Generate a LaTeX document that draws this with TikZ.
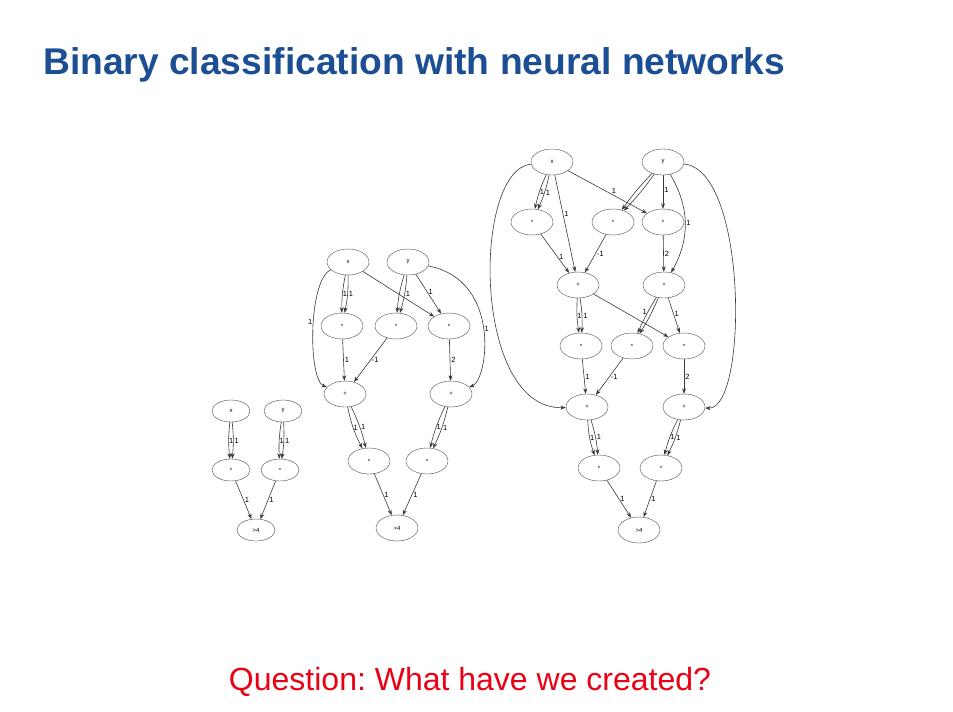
\documentclass[tikz,border=0pt]{standalone}
\usepackage{fontspec}
\setmainfont{Liberation Sans}
\usetikzlibrary{arrows.meta, shapes.geometric}
\definecolor{titleblue}{RGB}{28,78,148}
\definecolor{qred}{RGB}{235,0,20}

\begin{document}
\begin{tikzpicture}[x=1pt, y=-1pt, >={Stealth[length=5.5pt,width=4pt]},
    op/.style={draw=gray!55!black, ellipse, text=black, minimum width=42pt,
               minimum height=26pt, inner sep=0pt, font=\fontsize{6}{6}\selectfont},
    sm/.style={op, minimum width=38pt, minimum height=22pt},
    ln/.style={->, draw=gray!45!black, line width=0.6pt},
    wt/.style={font=\fontsize{7.5}{7.5}\selectfont, inner sep=1pt}]
  \useasboundingbox (0,0) rectangle (953,712);

  % headings
  \node[anchor=base west, inner sep=0pt, text=titleblue,
        font=\fontsize{37.2}{40}\selectfont\bfseries] (title) at (43,74)
        {Binary classification with neural networks};
  \node[anchor=base, inner sep=0pt, text=qred,
        font=\fontsize{32}{36}\selectfont\frenchspacing] (quest) at (470,690)
        {Question: What have we created?};

  % small network
  \node[sm] (ax)   at (231,411) {x};
  \node[sm] (ay)   at (283,411) {y};
  \node[sm] (am1)  at (231,470) {*};
  \node[sm] (am2)  at (280,470) {*};
  \node[sm] (aout) at (256,530) {>4};
  \draw[ln] (ax) to[bend right=6] node[wt, right=-1pt] {1} (am1);
  \draw[ln] (ax) to[bend left=6]  node[wt, right=0pt] {1} (am1);
  \draw[ln] (ay) to[bend right=6] node[wt, right=-1pt] {1} (am2);
  \draw[ln] (ay) to[bend left=6]  node[wt, right=0pt] {1} (am2);
  \draw[ln] (am1) -- node[wt, right] {1} (aout);
  \draw[ln] (am2) -- node[wt, right] {1} (aout);

  % middle network
  \node[op] (bx)   at (348,262) {x};
  \node[op] (by)   at (408,262) {y};
  \node[op] (bm1)  at (342,326) {*};
  \node[op] (bm2)  at (396,326) {*};
  \node[op] (bm3)  at (449,326) {*};
  \node[op] (bp1)  at (345,394) {+};
  \node[op] (bp2)  at (451,394) {+};
  \node[op] (bs1)  at (369,461) {*};
  \node[op] (bs2)  at (427,461) {*};
  \node[op] (bout) at (397,528) {>4};
  \draw[ln] (bx) to[bend right=6] node[wt, right=-1pt] {1} (bm1);
  \draw[ln] (bx) to[bend left=6]  node[wt, right=0pt] {1} (bm1);
  \draw[ln] (by) to[bend right=6] (bm2);
  \draw[ln] (by) to[bend left=6]  node[wt, right=0pt] {1} (bm2);
  \draw[ln] (bx) -- (bm3);
  \draw[ln] (by) -- node[wt, right, pos=.45] {1} (bm3);
  \draw[ln] (bx) .. controls (308,280) and (308,380) .. node[wt, left, pos=.45] {1} (bp1);
  \draw[ln] (by) .. controls (502,280) and (488,380) .. node[wt, right, pos=.5] {1} (bp2);
  \draw[ln] (bm1) -- node[wt, right] {1} (bp1);
  \draw[ln] (bm2) -- node[wt, right] {-1} (bp1);
  \draw[ln] (bm3) -- node[wt, right] {2} (bp2);
  \draw[ln] (bp1) to[bend right=8] node[wt, right=-1pt] {1} (bs1);
  \draw[ln] (bp1) to[bend left=6]  node[wt, right=0pt] {1} (bs1);
  \draw[ln] (bp2) to[bend right=6] node[wt, right=-1pt] {1} (bs2);
  \draw[ln] (bp2) to[bend left=6]  node[wt, right=0pt] {1} (bs2);
  \draw[ln] (bs1) -- node[wt, right] {1} (bout);
  \draw[ln] (bs2) -- node[wt, right] {1} (bout);

  % large network
  \node[op] (cx)   at (552,162) {x};
  \node[op] (cy)   at (663,162) {y};
  \node[op] (ca)   at (532,222) {*};
  \node[op] (cb)   at (613,222) {*};
  \node[op] (cc)   at (663,222) {*};
  \node[op] (cd)   at (578,285) {+};
  \node[op] (ce)   at (664,285) {+};
  \node[op] (cf)   at (581,346) {*};
  \node[op] (cg)   at (632,346) {*};
  \node[op] (ch)   at (684,346) {*};
  \node[op] (ci)   at (587,407) {+};
  \node[op] (cj)   at (684,407) {+};
  \node[op] (ck)   at (599,468) {*};
  \node[op] (cl)   at (661,468) {*};
  \node[op] (cout) at (639,530) {>4};
  \draw[ln] (cx) to[bend right=6] node[wt, right=-1pt] {1} (ca);
  \draw[ln] (cx) to[bend left=6]  node[wt, right=0pt] {1} (ca);
  \draw[ln] (cx) -- node[wt, right, pos=.4] {1} (cd);
  \draw[ln] (cx) -- node[wt, above right=-1pt, pos=.55] {1} (cc);
  \draw[ln] (cy) to[bend right=4] (cb);
  \draw[ln] (cy) to[bend left=4]  (cb);
  \draw[ln] (cy) -- node[wt, right, pos=.45] {1} (cc);
  \draw[ln] (cy) to[bend left=30] node[wt, right, pos=.5] {1} (ce);
  \draw[ln] (cx) .. controls (472,170) and (472,410) .. (ci);
  \draw[ln] (cy) .. controls (748,170) and (748,410) .. (cj);
  \draw[ln] (ca) -- node[wt, right, pos=.6] {1} (cd);
  \draw[ln] (cb) -- node[wt, right, pos=.5] {-1} (cd);
  \draw[ln] (cc) -- node[wt, right, pos=.5] {2} (ce);
  \draw[ln] (cd) to[bend right=6] node[wt, right=-1pt] {1} (cf);
  \draw[ln] (cd) to[bend left=6]  node[wt, right=0pt] {1} (cf);
  \draw[ln] (cd) -- (ch);
  \draw[ln] (ce) to[bend right=4] node[wt, left=0pt, pos=.4] {1} (cg);
  \draw[ln] (ce) to[bend left=4]  (cg);
  \draw[ln] (ce) -- node[wt, right, pos=.45] {1} (ch);
  \draw[ln] (cf) -- node[wt, right] {1} (ci);
  \draw[ln] (cg) -- node[wt, right] {-1} (ci);
  \draw[ln] (ch) -- node[wt, right] {2} (cj);
  \draw[ln] (ci) to[bend right=8] node[wt, right=-1pt] {1} (ck);
  \draw[ln] (ci) to[bend left=6]  node[wt, right=0pt] {1} (ck);
  \draw[ln] (cj) to[bend right=6] node[wt, right=-1pt] {1} (cl);
  \draw[ln] (cj) to[bend left=6]  node[wt, right=0pt] {1} (cl);
  \draw[ln] (ck) -- node[wt, right] {1} (cout);
  \draw[ln] (cl) -- node[wt, right] {1} (cout);
\end{tikzpicture}
\end{document}
